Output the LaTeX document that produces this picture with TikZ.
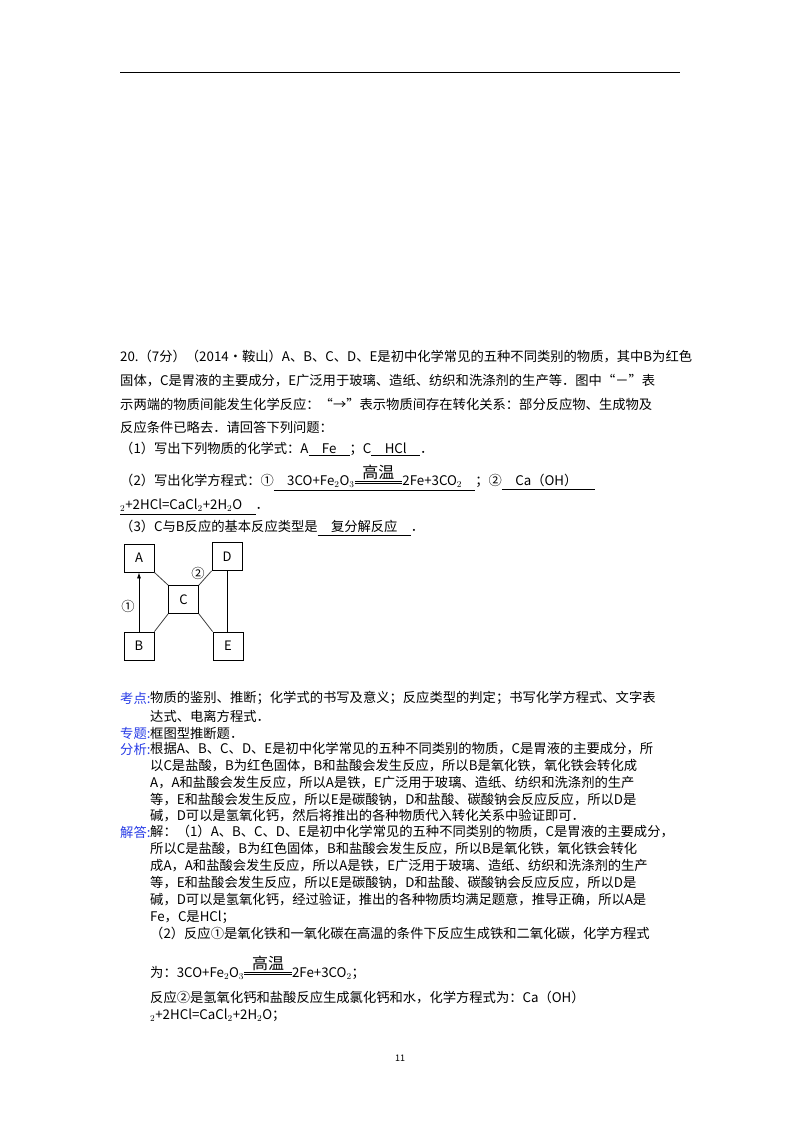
\documentclass[tikz,border=0pt]{standalone}
\usepackage{amsmath}
\usepackage{fontspec}
\setmainfont{Noto Sans CJK SC}
\usetikzlibrary{arrows.meta}
\newcommand\gwsign{\ensuremath{\overset{\mbox{\fontsize{16}{16}\selectfont 高温}}{\vcenter{\hrule width 3.6em height .5pt\kern1.2pt\hrule width 3.6em height .5pt}}}}
\definecolor{lblblue}{RGB}{40,60,230}
\tikzset{
  txt/.style={anchor=west, inner sep=0pt, font=\fontsize{13.3}{15}\selectfont},
  lbl/.style={txt, text=lblblue},
  box/.style={draw, thick, minimum width=30pt, minimum height=28pt, inner sep=0pt, font=\fontsize{13}{15}\selectfont},
  conn/.style={draw=black!75, thick}
}
\begin{document}
\begin{tikzpicture}[x=1pt,y=-1pt]
\useasboundingbox (0,0) rectangle (800,1132);
\draw[thick] (120,72) -- (680,72);
% question
\node[txt] (q1) at (120,357) {20.（7分）（2014•鞍山）A、B、C、D、E是初中化学常见的五种不同类别的物质，其中B为红色};
\node[txt] (q2) at (120,381) {固体，C是胃液的主要成分，E广泛用于玻璃、造纸、纺织和洗涤剂的生产等．图中“－”表};
\node[txt] (q3) at (120,404) {示两端的物质间能发生化学反应：“→”表示物质间存在转化关系：部分反应物、生成物及};
\node[txt] (q4) at (120,427) {反应条件已略去．请回答下列问题：};
\node[txt] (q5) at (120,449) {（1）写出下列物质的化学式：A\underline{\quad Fe\quad}；C\underline{\quad HCl\quad}．};
\node[txt] (q6) at (120,477) {（2）写出化学方程式：①\underline{\quad 3CO+Fe$_2$O$_3$\gwsign 2Fe+3CO$_2$\quad}；②\underline{\quad Ca（OH）\hspace{18pt}}};
\node[txt] (q7) at (120,507) {\underline{$_2$+2HCl=CaCl$_2$+2H$_2$O\quad}．};
\node[txt] (q8) at (120,528) {（3）C与B反应的基本反应类型是\underline{\quad 复分解反应\quad}．};
% diagram
\node[box] (A) at (139,558) {A};
\node[box] (D) at (227,556.5) {D};
\node[box] (C) at (183.5,599.5) {C};
\node[box] (B) at (139,646) {B};
\node[box] (E) at (228,646) {E};
\draw[conn] (A.south east) -- (C.north west);
\draw[conn] (D.south west) -- (C.north east);
\draw[conn] (B.north east) -- (C.south west);
\draw[conn] (E.north west) -- (C.south east);
\draw[thick] (D.south) -- (D.south |- E.north);
\draw[thick,-{Latex[length=6pt,width=4pt]}] (B.north) -- (A.south);
\node[txt,anchor=center] (n1) at (128,606) {①};
\node[txt,anchor=center] (n2) at (198,573) {②};
% analysis
\node[lbl] (k1) at (120,698) {考点:};
\node[txt] (k2) at (150,698) {物质的鉴别、推断；化学式的书写及意义；反应类型的判定；书写化学方程式、文字表};
\node[txt] (k3) at (150,716) {达式、电离方程式．};
\node[lbl] (z1) at (120,733) {专题:};
\node[txt] (z2) at (150,733) {框图型推断题．};
\node[lbl] (f1) at (120,749) {分析:};
\node[txt] (f2) at (150,749) {根据A、B、C、D、E是初中化学常见的五种不同类别的物质，C是胃液的主要成分，所};
\node[txt] (f3) at (150,766) {以C是盐酸，B为红色固体，B和盐酸会发生反应，所以B是氧化铁，氧化铁会转化成};
\node[txt] (f4) at (150,783) {A，A和盐酸会发生反应，所以A是铁，E广泛用于玻璃、造纸、纺织和洗涤剂的生产};
\node[txt] (f5) at (150,800) {等，E和盐酸会发生反应，所以E是碳酸钠，D和盐酸、碳酸钠会反应反应，所以D是};
\node[txt] (f6) at (150,816) {碱，D可以是氢氧化钙，然后将推出的各种物质代入转化关系中验证即可．};
\node[lbl] (j1) at (120,832) {解答:};
\node[txt] (j2) at (150,832) {解：（1）A、B、C、D、E是初中化学常见的五种不同类别的物质，C是胃液的主要成分，};
\node[txt] (j3) at (150,849) {所以C是盐酸，B为红色固体，B和盐酸会发生反应，所以B是氧化铁，氧化铁会转化};
\node[txt] (j4) at (150,866) {成A，A和盐酸会发生反应，所以A是铁，E广泛用于玻璃、造纸、纺织和洗涤剂的生产};
\node[txt] (j5) at (150,883) {等，E和盐酸会发生反应，所以E是碳酸钠，D和盐酸、碳酸钠会反应反应，所以D是};
\node[txt] (j6) at (150,900) {碱，D可以是氢氧化钙，经过验证，推出的各种物质均满足题意，推导正确，所以A是};
\node[txt] (j7) at (150,917) {Fe，C是HCl；};
\node[txt] (j8) at (150,934) {（2）反应①是氧化铁和一氧化碳在高温的条件下反应生成铁和二氧化碳，化学方程式};
\node[txt] (j9) at (150,967) {为：3CO+Fe$_2$O$_3$\gwsign 2Fe+3CO$_2$；};
\node[txt] (j10) at (150,998) {反应②是氢氧化钙和盐酸反应生成氯化钙和水，化学方程式为：Ca（OH）};
\node[txt] (j11) at (150,1015) {$_2$+2HCl=CaCl$_2$+2H$_2$O；};
\node[anchor=center, inner sep=0pt, font=\fontsize{9}{10}\selectfont] (pg) at (400,1058) {11};
\end{tikzpicture}
\end{document}
